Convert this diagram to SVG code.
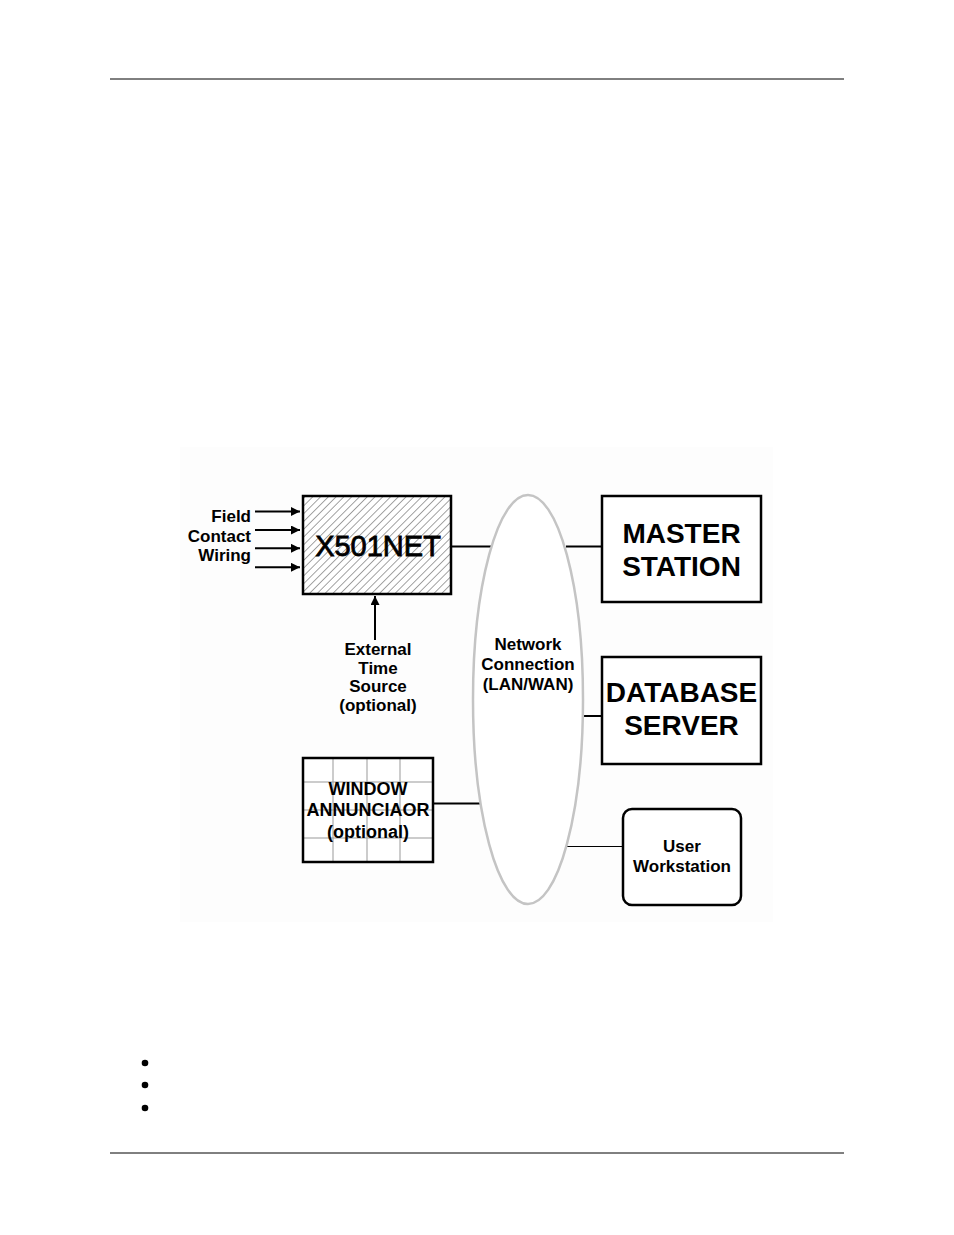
<svg xmlns="http://www.w3.org/2000/svg" width="954" height="1235" viewBox="0 0 954 1235">
<style>
.t{font-family:"Liberation Sans",Arial,sans-serif;font-weight:bold;fill:#000}
.s17{font-size:17px}
.s18{font-size:18px}
.big{font-size:28px}
.box{fill:#fff;stroke:#000;stroke-width:2.5}
.ln{stroke:#000;stroke-width:2;fill:none}
.grid{stroke:#999;stroke-width:1}
</style>
<defs>
<pattern id="hatch" width="5.5" height="5.5" patternUnits="userSpaceOnUse" patternTransform="rotate(45)">
<rect width="5.5" height="5.5" fill="#fff"/>
<line x1="0" y1="0" x2="0" y2="5.5" stroke="#333" stroke-width="0.9"/>
</pattern>
<marker id="arr" viewBox="0 0 10 10" refX="10" refY="5" markerWidth="4.5" markerHeight="4.5" orient="auto" markerUnits="strokeWidth">
<path d="M0,0 L10,5 L0,10 z" fill="#000"/>
</marker>
</defs>
<rect width="954" height="1235" fill="#fff"/>
<g id="page">
<line x1="110" y1="79" x2="844" y2="79" stroke="#000" stroke-width="1"/>
<line x1="110" y1="1153" x2="844" y2="1153" stroke="#000" stroke-width="1"/>
<circle cx="145" cy="1063" r="3.3" fill="#000"/>
<circle cx="145" cy="1085" r="3.3" fill="#000"/>
<circle cx="145" cy="1108" r="3.3" fill="#000"/>
<rect x="180" y="447" width="593" height="475" fill="#fdfdfd"/>
</g>
<g id="connectors">
<line class="ln" x1="255" y1="511.5" x2="300" y2="511.5" marker-end="url(#arr)"/>
<line class="ln" x1="255" y1="530" x2="300" y2="530" marker-end="url(#arr)"/>
<line class="ln" x1="255" y1="548.3" x2="300" y2="548.3" marker-end="url(#arr)"/>
<line class="ln" x1="255" y1="567.3" x2="300" y2="567.3" marker-end="url(#arr)"/>
<line class="ln" x1="375" y1="640" x2="375" y2="596" marker-end="url(#arr)"/>
<line class="ln" x1="452" y1="546.5" x2="493" y2="546.5"/>
<line class="ln" x1="566" y1="546.5" x2="602" y2="546.5"/>
<line class="ln" x1="583" y1="716" x2="602" y2="716"/>
<line class="ln" x1="433" y1="803.5" x2="481" y2="803.5" stroke-width="2.5"/>
<line x1="567" y1="846.5" x2="623" y2="846.5" stroke="#000" stroke-width="1.2"/>
</g>
<g id="field-label">
<text class="t s17" x="251" y="522" text-anchor="end">Field</text>
<text class="t s17" x="251" y="542" text-anchor="end">Contact</text>
<text class="t s17" x="251" y="561" text-anchor="end">Wiring</text>
</g>
<g id="x501net">
<rect x="303" y="496" width="148" height="98" fill="url(#hatch)" stroke="#000" stroke-width="2.5"/>
<text class="t" x="378" y="556" text-anchor="middle" style="font-size:29px;font-weight:normal;stroke:#000;stroke-width:0.8">X501NET</text>
</g>
<g id="time-source">
<text class="t s17" x="378" y="655" text-anchor="middle">External</text>
<text class="t s17" x="378" y="673.5" text-anchor="middle">Time</text>
<text class="t s17" x="378" y="692" text-anchor="middle">Source</text>
<text class="t s17" x="378" y="710.5" text-anchor="middle">(optional)</text>
</g>
<g id="network">
<ellipse cx="528" cy="699.5" rx="55" ry="204.5" fill="#fff" stroke="#c4c4c4" stroke-width="2.5"/>
<text class="t s17" x="528" y="650" text-anchor="middle">Network</text>
<text class="t s17" x="528" y="670" text-anchor="middle">Connection</text>
<text class="t s17" x="528" y="690" text-anchor="middle">(LAN/WAN)</text>
</g>
<g id="master-station">
<rect class="box" x="602" y="496" width="159" height="106"/>
<text class="t big" x="681.5" y="543" text-anchor="middle">MASTER</text>
<text class="t big" x="681.5" y="576" text-anchor="middle">STATION</text>
</g>
<g id="database-server">
<rect class="box" x="602" y="657" width="159" height="107"/>
<text class="t big" x="681.5" y="702" text-anchor="middle">DATABASE</text>
<text class="t big" x="681.5" y="735" text-anchor="middle">SERVER</text>
</g>
<g id="user-workstation">
<rect class="box" x="623" y="809" width="118" height="96" rx="9"/>
<text class="t s17" x="682" y="852" text-anchor="middle">User</text>
<text class="t s17" x="682" y="872" text-anchor="middle">Workstation</text>
</g>
<g id="window-annunciator">
<rect x="303" y="758" width="130" height="104" fill="#fff"/>
<line class="grid" x1="333" y1="758" x2="333" y2="862"/>
<line class="grid" x1="367" y1="758" x2="367" y2="862"/>
<line class="grid" x1="400" y1="758" x2="400" y2="862"/>
<line class="grid" x1="303" y1="782" x2="433" y2="782"/>
<line class="grid" x1="303" y1="810" x2="433" y2="810"/>
<line class="grid" x1="303" y1="838" x2="433" y2="838"/>
<rect x="303" y="758" width="130" height="104" fill="none" stroke="#000" stroke-width="2.5"/>
<text class="t s18" x="368" y="795" text-anchor="middle">WINDOW</text>
<text class="t s18" x="368" y="816" text-anchor="middle">ANNUNCIAOR</text>
<text class="t s18" x="368" y="838" text-anchor="middle">(optional)</text>
</g>
</svg>
